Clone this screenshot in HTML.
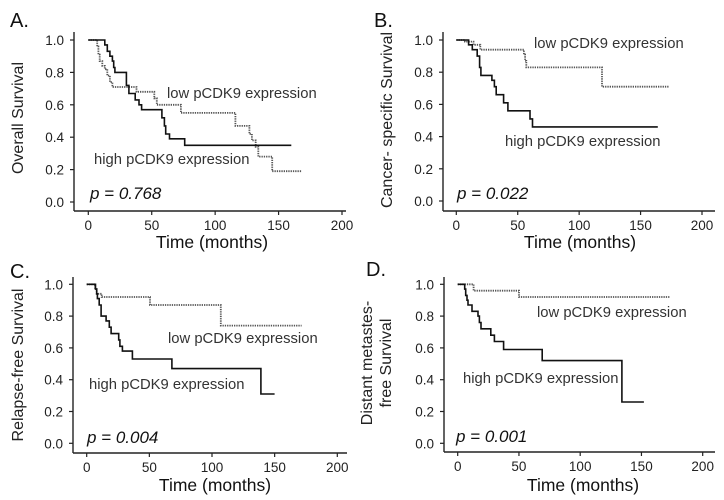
<!DOCTYPE html>
<html><head><meta charset="utf-8">
<style>
html,body{margin:0;padding:0;background:#fff;}
svg{display:block;font-family:"Liberation Sans",sans-serif;}
.tick{font-size:13.5px;fill:#222;}
.ann{font-size:14.8px;fill:#333;}
.pv{font-size:17px;font-style:italic;fill:#111;}
.xt{font-size:17.5px;fill:#111;}
.yt{font-size:16px;fill:#222;}
.lab{font-size:20px;fill:#111;}
</style></head>
<body>
<svg id="fig" width="724" height="500" viewBox="0 0 724 500"></svg>
<script>
// Panel A: overall survival
const aHighT=[0,13,15,17,19,20,21,30,32,37,40,42,58,60,61,64,76];
const aHighS=[1,.97,.93,.90,.87,.83,.80,.72,.67,.63,.60,.57,.52,.47,.42,.39,.35];
const aHighEnd=160;
const aLowT=[0,7,8,9,11,13,15,17,19,38,52,54,73,116,127,129,132,134,145];
const aLowS=[1,.96,.91,.87,.84,.82,.78,.74,.71,.68,.64,.60,.55,.47,.42,.38,.34,.28,.19];
const aLowEnd=168;
// Panel B: cancer-specific survival
const bHighT=[0,10,13,17,19,20,29,31,32.5,38.5,42,60,62,78];
const bHighS=[1,.97,.94,.90,.83,.78,.75,.71,.66,.61,.56,.51,.46,.46];
const bHighEnd=164;
const bLowT=[0,7,14,19.5,55,56,57,118.6];
const bLowS=[1,.99,.97,.94,.91,.87,.83,.71];
const bLowEnd=173;
// Panel C: relapse-free survival
const cHighT=[0,7,8,8.5,10,11.5,15.5,18,19.5,25.5,26.5,28.5,36.5,68,139];
const cHighS=[1,.97,.94,.91,.87,.80,.77,.73,.69,.65,.61,.58,.53,.47,.31];
const cHighEnd=150;
const cLowT=[0,6.6,8,10,12,50.5,107];
const cLowS=[1,.97,.94,.94,.92,.87,.74];
const cLowEnd=171.5;
// Panel D: distant metastasis-free survival
const dHighT=[0,5.7,6.5,7.6,8.4,11,11.7,16.6,17.7,19,27,30,37.5,69,134];
const dHighS=[1,.97,.93,.90,.87,.87,.83,.80,.76,.72,.68,.64,.59,.52,.26];
const dHighEnd=152;
const dLowT=[0,13,50];
const dLowS=[1,.96,.92];
const dLowEnd=173.6;
// shared ticks
const xTicks=[0,50,100,150,200];
const xTickLabels=["0","50","100","150","200"];
const yTicks=[0,0.2,0.4,0.6,0.8,1.0];
const yTickLabels=["0.0","0.2","0.4","0.6","0.8","1.0"];

const NS="http://www.w3.org/2000/svg";
const svg=document.getElementById('fig');
function mk(tag,attrs,parent){const e=document.createElementNS(NS,tag);for(const k in attrs)e.setAttribute(k,attrs[k]);(parent||svg).appendChild(e);return e;}

const panels=[
 {id:'a',x0:88.3,x200:342,y1:40,y0:202,ax:74,axTop:32,axY:211,axRight:346,
  high:[aHighT,aHighS,aHighEnd],low:[aLowT,aLowS,aLowEnd],
  letter:['A.',10,27],ytitle:['Overall Survival'],ytx:[23],yty:118,
  lowTxt:[167,98],highTxt:[94,164],p:['p = 0.768',90,199],xTitle:[212,248]},
 {id:'b',x0:456.3,x200:702,y1:40,y0:201,ax:443,axTop:32,axY:211,axRight:715,
  high:[bHighT,bHighS,bHighEnd],low:[bLowT,bLowS,bLowEnd],
  letter:['B.',374,27],ytitle:['Cancer- specific Survival'],ytx:[392],yty:120,
  lowTxt:[534,48],highTxt:[505,146],p:['p = 0.022',457,199],xTitle:[580,248]},
 {id:'c',x0:86.7,x200:337.3,y1:284.3,y0:443.3,ax:73,axTop:277,axY:453,axRight:347,
  high:[cHighT,cHighS,cHighEnd],low:[cLowT,cLowS,cLowEnd],
  letter:['C.',10,278],ytitle:['Relapse-free Survival'],ytx:[23],yty:365,
  lowTxt:[168,343],highTxt:[89,389],p:['p = 0.004',87,443],xTitle:[215,491]},
 {id:'d',x0:457.7,x200:702.7,y1:284.3,y0:443.3,ax:444,axTop:277,axY:452,axRight:715,
  high:[dHighT,dHighS,dHighEnd],low:[dLowT,dLowS,dLowEnd],
  letter:['D.',366,276],ytitle:['Distant metastes-','free Survival'],ytx:[372,391],yty:363,
  lowTxt:[537,317],highTxt:[463,383],p:['p = 0.001',456,442],xTitle:[583,491]}
];

function stepPath(T,S,end,sx,sy){
  let d='M'+sx(T[0]).toFixed(1)+','+sy(S[0]).toFixed(1);
  for(let i=1;i<T.length;i++){d+=' H'+sx(T[i]).toFixed(1)+' V'+sy(S[i]).toFixed(1);}
  d+=' H'+sx(end).toFixed(1);return d;
}

panels.forEach(p=>{
  const g=mk('g',{});
  
  
  const sx=v=>p.x0+(p.x200-p.x0)*v/200;
  const sy=v=>p.y0-(p.y0-p.y1)*v;
  const ya=mk('line',{x1:p.ax,y1:p.axTop,x2:p.ax,y2:p.axY,stroke:'#222','stroke-width':1.4},g);
  
  
  const xa=mk('line',{x1:p.ax,y1:p.axY,x2:p.axRight,y2:p.axY,stroke:'#222','stroke-width':1.4},g);
  
  
  yTicks.forEach((v,i)=>{
    mk('line',{x1:p.ax-4,y1:sy(v),x2:p.ax,y2:sy(v),stroke:'#222','stroke-width':1.2},g);
    const t=mk('text',{x:p.ax-10,y:sy(v)+5,'text-anchor':'end',class:'tick'},g);
    t.textContent=yTickLabels[i];
    
    
  });
  xTicks.forEach((v,i)=>{
    mk('line',{x1:sx(v),y1:p.axY,x2:sx(v),y2:p.axY+4,stroke:'#222','stroke-width':1.2},g);
    const t=mk('text',{x:sx(v),y:p.axY+19,'text-anchor':'middle',class:'tick'},g);
    t.textContent=xTickLabels[i];
    
    
  });
  const lo=mk('path',{d:stepPath(p.low[0],p.low[1],p.low[2],sx,sy),fill:'none',stroke:'#555','stroke-width':1.8,'stroke-dasharray':'1.3 1'},g);
  
  
  const hi=mk('path',{d:stepPath(p.high[0],p.high[1],p.high[2],sx,sy),fill:'none',stroke:'#111','stroke-width':1.6},g);
  
  
  const lt=mk('text',{x:p.lowTxt[0],y:p.lowTxt[1],class:'ann'},g);lt.textContent='low pCDK9 expression';
  
  
  const ht=mk('text',{x:p.highTxt[0],y:p.highTxt[1],class:'ann'},g);ht.textContent='high pCDK9 expression';
  
  
  const pv=mk('text',{x:p.p[1],y:p.p[2],class:'pv'},g);pv.textContent=p.p[0];
  
  
  const xt=mk('text',{x:p.xTitle[0],y:p.xTitle[1],'text-anchor':'middle',class:'xt'},g);xt.textContent='Time (months)';
  
  
  p.ytitle.forEach((s,i)=>{
    const yt=mk('text',{x:0,y:0,'text-anchor':'middle',class:'yt',transform:'translate('+p.ytx[i]+','+p.yty+') rotate(-90)'},g);
    yt.textContent=s;
    
    
  });
  const lb=mk('text',{x:p.letter[1],y:p.letter[2],class:'lab'},g);lb.textContent=p.letter[0];
  
  
});
</script>
</body></html>
